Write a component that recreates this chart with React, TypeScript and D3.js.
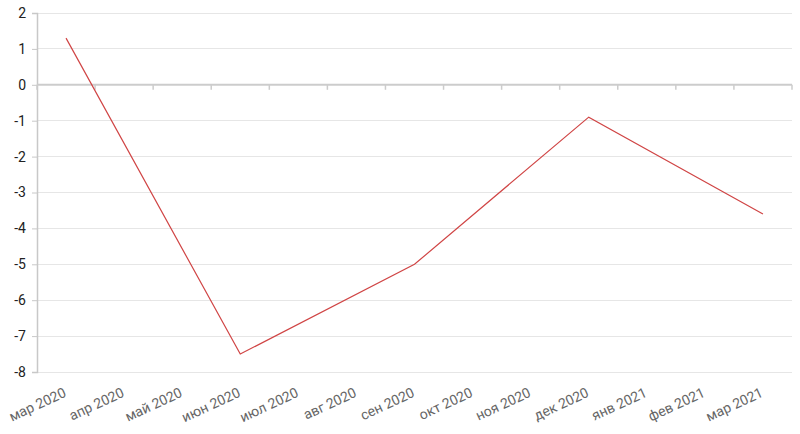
import React, { useEffect, useRef } from 'react';
import * as d3 from 'd3';

const months = [
  'мар 2020', 'апр 2020', 'май 2020', 'июн 2020', 'июл 2020', 'авг 2020', 'сен 2020',
  'окт 2020', 'ноя 2020', 'дек 2020', 'янв 2021', 'фев 2021', 'мар 2021'
];
// only quarterly values are present
const values: (number | null)[] = [1.3, null, null, -7.5, null, null, -5.0, null, null, -0.9, null, null, -3.6];
const yTicks = [2, 1, 0, -1, -2, -3, -4, -5, -6, -7, -8];

const W = 800;
const H = 434;

const App: React.FC = () => {
  const svgRef = useRef<SVGSVGElement>(null);

  useEffect(() => {
    if (!svgRef.current) return;
    const svg = d3.select(svgRef.current);
    svg.selectAll('*').remove();

    const left = 37, right = 792, top = 13, bottom = 372;

    const x = d3.scaleBand<string>().domain(months).range([left, right]);
    const y = d3.scaleLinear().domain([-8, 2]).range([bottom, top]);

    // grid
    svg.append('g')
      .selectAll('line')
      .data(yTicks)
      .enter().append('line')
      .attr('x1', left).attr('x2', right)
      .attr('y1', d => y(d)).attr('y2', d => y(d))
      .attr('stroke', '#e6e6e6')
      .attr('stroke-width', 1)
      .attr('shape-rendering', 'crispEdges');

    // y axis
    const yAxis = svg.append('g')
      .attr('transform', `translate(${left},0)`)
      .call(d3.axisLeft(y).tickValues(yTicks).tickSize(5).tickPadding(6).tickFormat(d => String(d)));
    yAxis.select('.domain').attr('stroke', '#c8c8c8').attr('stroke-width', 1.5);
    yAxis.selectAll('.tick line').attr('stroke', '#c8c8c8');
    yAxis.selectAll('text')
      .attr('fill', '#222')
      .style('font-family', 'Roboto, sans-serif')
      .style('font-size', '14px');

    // category axis on zero line
    const xAxis = svg.append('g')
      .attr('transform', `translate(0,${y(0)})`);
    xAxis.append('line')
      .attr('x1', left).attr('x2', right)
      .attr('stroke', '#cccccc').attr('stroke-width', 2);
    const edges = months.map(m => x(m)!).concat([right]);
    xAxis.selectAll('line.tk')
      .data(edges)
      .enter().append('line')
      .attr('class', 'tk')
      .attr('x1', d => d).attr('x2', d => d)
      .attr('y1', 0).attr('y2', 5)
      .attr('stroke', '#cccccc').attr('stroke-width', 1.5);

    // labels at bottom
    svg.append('g')
      .selectAll('text')
      .data(months)
      .enter().append('text')
      .attr('transform', d => `translate(${x(d)! + x.bandwidth() / 2 + 1},${bottom + 24}) rotate(-25)`)
      .attr('text-anchor', 'end')
      .attr('fill', '#666')
      .style('font-family', 'Roboto, sans-serif')
      .style('font-size', '14px')
      .text(d => d);

    // line
    const pts = months
      .map((m, i) => ({ m, v: values[i] }))
      .filter(d => d.v !== null) as { m: string; v: number }[];
    const line = d3.line<{ m: string; v: number }>()
      .x(d => x(d.m)! + x.bandwidth() / 2)
      .y(d => y(d.v));
    svg.append('path')
      .datum(pts)
      .attr('d', line)
      .attr('fill', 'none')
      .attr('stroke', '#d04545')
      .attr('stroke-width', 1.2);
  }, []);

  return (
    <svg ref={svgRef} width={W} height={H}
      style={{ position: 'absolute', left: 0, top: 0, background: '#fff' }} />
  );
};

export default App;
